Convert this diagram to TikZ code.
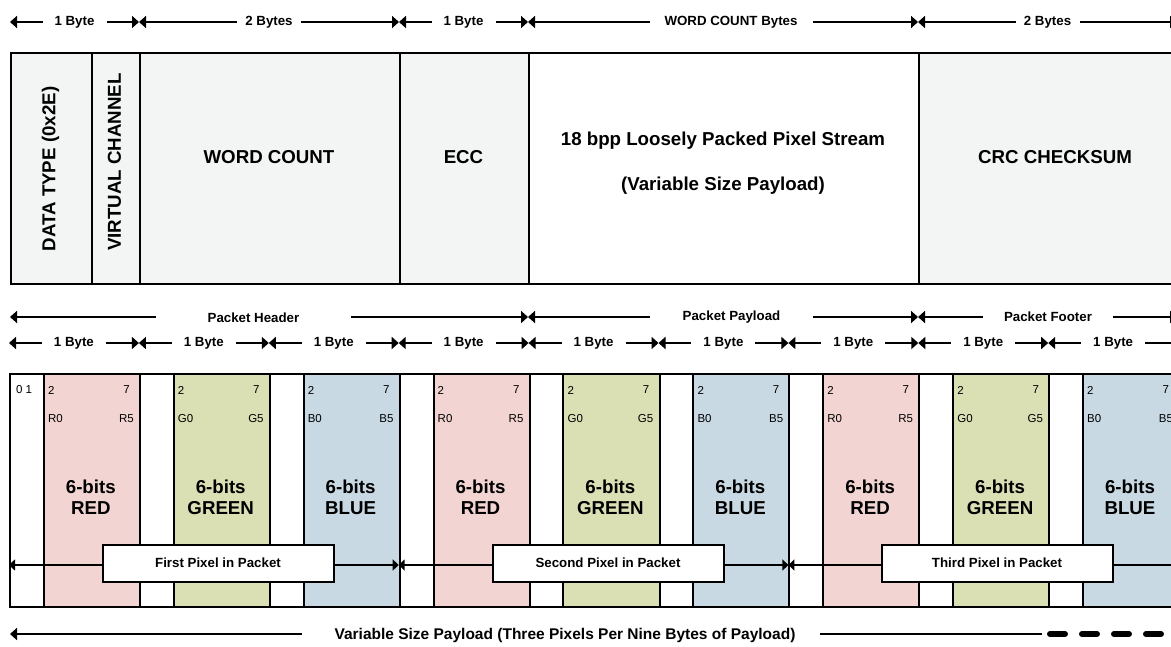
\documentclass[tikz,border=0pt]{standalone}
\usepackage{fontspec}
\setmainfont{Liberation Sans}
\usetikzlibrary{arrows.meta}
\definecolor{redf}{HTML}{F2D5D2}
\definecolor{greenf}{HTML}{DADFB4}
\definecolor{bluef}{HTML}{C9D9E3}
\definecolor{grayf}{HTML}{F3F4F4}
\begin{document}
\begin{tikzpicture}[x=1pt,y=-1pt,
  cell/.style={draw, line width=2pt, fill=grayf, inner sep=0pt, anchor=north west, minimum height=231.3pt},
  big/.style={font=\fontsize{18.7}{21}\selectfont\bfseries, inner sep=0pt},
  lbl/.style={font=\fontsize{13.3}{15}\selectfont\bfseries, inner sep=0pt},
  small/.style={font=\fontsize{11.5}{13}\selectfont, inner sep=0pt},
  dim/.style={line width=2pt, {Triangle[length=7pt,width=12pt]}-{Triangle[length=7pt,width=12pt]}},
  gap/.style={lbl, fill=white, minimum height=14pt, minimum width=64pt},
  pixarr/.style={line width=1.5pt, {Triangle[length=6pt,width=11pt]}-{Triangle[length=6pt,width=11pt]}},
  pixbox/.style={lbl, draw, line width=2pt, fill=white, minimum width=231pt, minimum height=37pt},
  twobit/.style={draw, line width=2pt, fill=white, anchor=north west, inner sep=0pt, minimum width=33.8pt, minimum height=233pt},
  sixbit/.style={draw, line width=2pt, anchor=north west, inner sep=0pt, minimum width=96.1pt, minimum height=233pt},
]
\clip (0,0) rectangle (1171,646);
\fill[white] (0,0) rectangle (1171,646);

% ---------- top byte-width arrows ----------
\coordinate (t0) at (10,22);
\coordinate (t1) at (139,22);
\coordinate (t2) at (399,22);
\coordinate (t3) at (528,22);
\coordinate (t4) at (918,22);
\coordinate (t5) at (1177,22);
\draw[dim] (t0) -- node[gap] (ta) {1 Byte} (t1);
\draw[dim] (t1) -- node[gap] (tb) {2 Bytes} (t2);
\draw[dim] (t2) -- node[gap] (tc) {1 Byte} (t3);
\draw[dim] (t3) -- (t4);
\node[gap, minimum width=163pt] (td) at (731,22) {WORD COUNT Bytes};
\draw[dim] (t4) -- node[gap] (te) {2 Bytes} (t5);

% ---------- top packet box ----------
\node[cell, minimum width=80.7pt] (dt) at (10,51.7) {};
\node[cell, minimum width=48.6pt] (vc) at (90.7,51.7) {};
\node[cell, minimum width=259.7pt] (wc) at (139.3,51.7) {};
\node[cell, minimum width=129pt] (ecc) at (399,51.7) {};
\node[cell, minimum width=390pt, fill=white] (pl) at (528,51.7) {};
\node[cell, minimum width=270pt] (crc) at (918,51.7) {};

\node[big, rotate=90] (dtt) at (50.5,169) {DATA TYPE (0x2E)};
\node[big, rotate=90] (vct) at (114.5,162) {VIRTUAL CHANNEL};
\node[big] (wct) at (269,157) {WORD COUNT};
\node[big] (ecct) at (463.5,157) {ECC};
\node[big] (plt1) at (723,141) {18 bpp Loosely Packed Pixel Stream};
\node[big] (plt2) at (723,186) {(Variable Size Payload)};
\node[big] (crct) at (1055,157) {CRC CHECKSUM};

% ---------- packet part arrows ----------
\coordinate (h0) at (10,317);
\coordinate (h1) at (528,317);
\coordinate (h2) at (918,317);
\coordinate (h3) at (1177,317);
\draw[dim] (h0) -- (h1);
\draw[dim] (h1) -- (h2);
\draw[dim] (h2) -- (h3);
\node[gap, minimum width=195pt] (ph) at (253.5,318) {Packet Header};
\node[gap, minimum width=163pt] (pp) at (731.5,317) {Packet Payload};
\node[gap, minimum width=130pt] (pf) at (1048,317) {Packet Footer};

% ---------- byte arrows ----------
\foreach \k in {0,...,8}{
  \pgfmathsetmacro\ba{9+129.9*\k}
  \pgfmathsetmacro\bb{9+129.9*(\k+1)}
  \coordinate (r\k a) at (\ba,343);
  \coordinate (r\k b) at (\bb,343);
  \draw[dim] (r\k a) -- node[gap] (rb\k) {1 Byte} (r\k b);
}

% ---------- pixel bytes ----------
\foreach \k/\col/\ch/\word in {0/redf/R/RED,1/greenf/G/GREEN,2/bluef/B/BLUE,
                               3/redf/R/RED,4/greenf/G/GREEN,5/bluef/B/BLUE,
                               6/redf/R/RED,7/greenf/G/GREEN,8/bluef/B/BLUE}{
  \pgfmathsetmacro\bx{9+129.9*\k}
  \pgfmathsetmacro\cx{\bx+33.8}
  \pgfmathsetmacro\ex{\bx+129.9}
  \node[twobit] (w\k) at (\bx,373) {};
  \node[sixbit, fill=\col] (c\k) at (\cx,373) {};
  \node[small, anchor=west] (n2\k) at (\cx+5,390) {2};
  \node[small, anchor=east] (n7\k) at (\ex-9,390) {7};
  \node[small, anchor=west] (l0\k) at (\cx+5,419) {\ch0};
  \node[small, anchor=east] (l5\k) at (\ex-5,419) {\ch5};
  \node[big, align=center] (t\k) at (\cx+48,497) {6-bits\\\word};
}
\node[small] (zo) at (24,390) {0 1};

% ---------- pixel arrows ----------
\coordinate (p0) at (9,565);
\coordinate (p1) at (398.7,565);
\coordinate (p2) at (788.4,565);
\coordinate (p3) at (1178,565);
\draw[pixarr] (p0) -- (p1);
\draw[pixarr] (p1) -- (p2);
\draw[pixarr] (p2) -- (p3);
\node[pixbox] (px1) at (218,563) {First Pixel in Packet};
\node[pixbox] (px2) at (608,563) {Second Pixel in Packet};
\node[pixbox] (px3) at (997,563) {Third Pixel in Packet};

% ---------- bottom payload arrow ----------
\coordinate (v0) at (10,634);
\coordinate (v1) at (302,634);
\coordinate (v2) at (820,634);
\coordinate (v3) at (1042,634);
\coordinate (v4) at (1050,634);
\coordinate (v5) at (1185,634);
\draw[line width=2pt, {Triangle[length=7pt,width=12pt]}-] (v0) -- (v1);
\node[font=\fontsize{15.5}{18}\selectfont\bfseries, inner sep=0pt] (vsp) at (565,635) {Variable Size Payload (Three Pixels Per Nine Bytes of Payload)};
\draw[line width=2pt] (v2) -- (v3);
\draw[line width=6pt, line cap=round, dash pattern=on 15pt off 17pt] (v4) -- (v5);
\end{tikzpicture}
\end{document}
